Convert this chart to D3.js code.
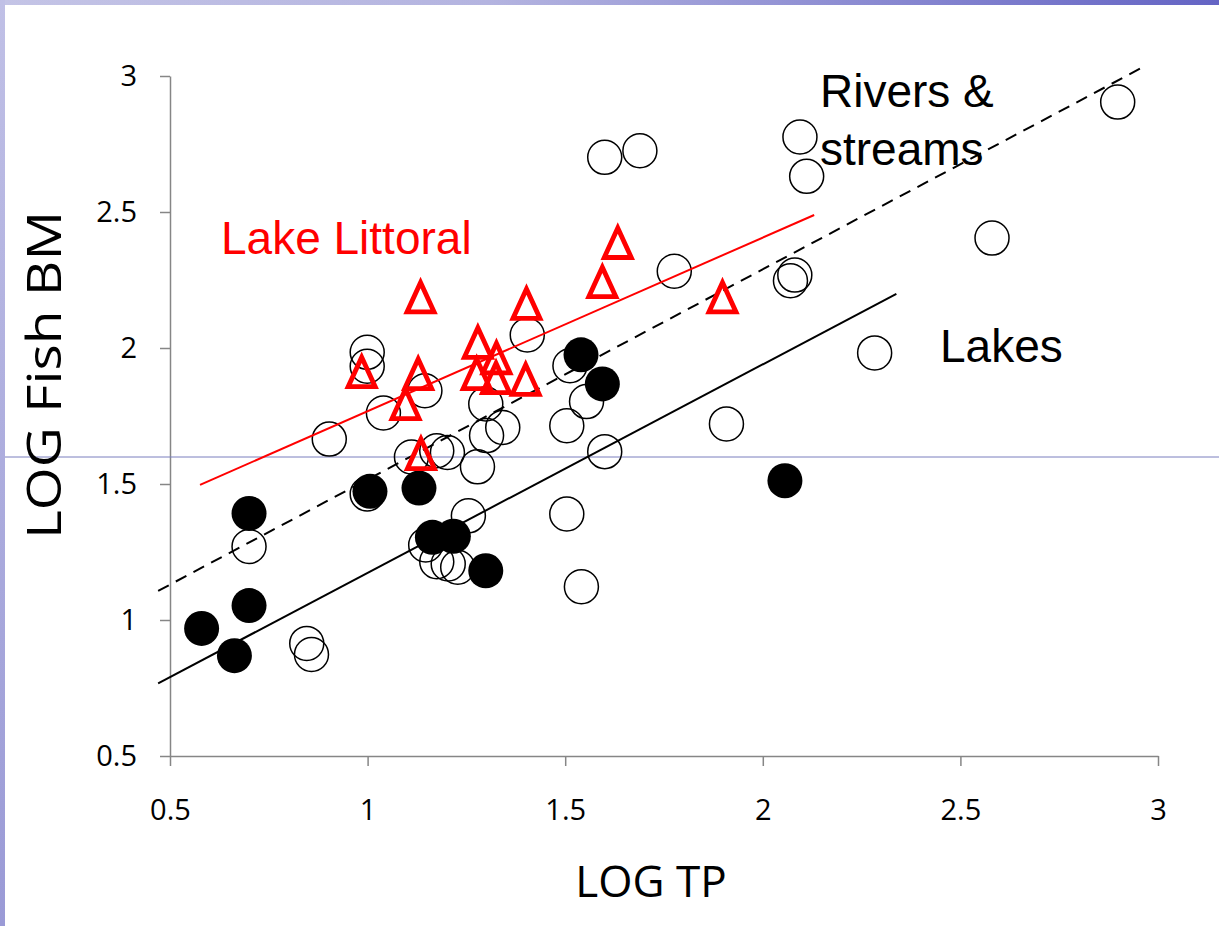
<!DOCTYPE html>
<html>
<head>
<meta charset="utf-8">
<script src="https://cdn.jsdelivr.net/npm/d3@7"></script>
<style>
  html, body { margin: 0; padding: 0; background: #fff; }
  svg { display: block; }
</style>
</head>
<body>
<div id="chart"></div>
<script>
// open circles (rivers & streams)
const riverX = [2.898, 2.094, 2.111, 1.600, 1.689, 2.580, 1.776, 2.081, 2.070, 2.283,
  1.908, 1.404, 1.512, 1.554, 1.504, 1.299, 1.301, 1.342, 1.600, 0.999,
  0.999, 0.903, 1.040, 1.145, 1.111, 1.175, 1.202, 1.278, 0.999, 1.255,
  1.147, 1.175, 1.204, 1.228, 0.700, 0.846, 0.858, 1.504, 1.541];
const riverY = [2.904, 2.776, 2.631, 2.701, 2.725, 2.404, 2.282, 2.268, 2.247, 1.982,
  1.721, 2.048, 1.935, 1.803, 1.714, 1.794, 1.678, 1.708, 1.619, 1.984,
  1.933, 1.665, 1.761, 1.843, 1.599, 1.622, 1.616, 1.563, 1.463, 1.383,
  1.276, 1.214, 1.206, 1.194, 1.270, 0.914, 0.873, 1.390, 1.122];

// filled circles (lakes)
const lakeX = [1.540, 1.594, 1.006, 1.130, 1.164, 1.217, 1.299, 0.700, 0.700, 0.580, 0.663, 2.056];
const lakeY = [1.975, 1.868, 1.473, 1.485, 1.304, 1.308, 1.181, 1.392, 1.053, 0.969, 0.869, 1.512];

// triangles (lake littoral)
const littoralX = [1.134, 0.985, 1.128, 1.633, 1.594, 1.402, 1.279, 1.326, 1.276, 1.325, 1.400, 1.096, 1.135, 1.898];
const littoralY = [2.186, 1.911, 1.904, 2.386, 2.242, 2.162, 2.019, 1.962, 1.904, 1.889, 1.883, 1.794, 1.610, 2.186];

// fitted lines, end points
const littoralFitX = [0.576, 2.130];
const littoralFitY = [1.497, 2.489];
const riverFitX = [0.470, 2.961];
const riverFitY = [1.107, 3.032];
const lakeFitX = [0.470, 2.338];
const lakeFitY = [0.767, 2.199];

const xTicks = [0.5, 1, 1.5, 2, 2.5, 3];
const yTicks = [0.5, 1, 1.5, 2, 2.5, 3];

const W = 1219, H = 926;

const svg = d3.select('#chart').append('svg')
  .attr('width', W)
  .attr('height', H);

// slide frame
const defs = svg.append('defs');
const topGrad = defs.append('linearGradient').attr('id', 'topGrad');
topGrad.append('stop').attr('offset', '0%').attr('stop-color', '#c4c4e6');
topGrad.append('stop').attr('offset', '40%').attr('stop-color', '#b4b4e0');
topGrad.append('stop').attr('offset', '100%').attr('stop-color', '#6464c4');
const leftGrad = defs.append('linearGradient').attr('id', 'leftGrad')
  .attr('x1', 0).attr('y1', 0).attr('x2', 0).attr('y2', 1);
leftGrad.append('stop').attr('offset', '0%').attr('stop-color', '#c0c0e6');
leftGrad.append('stop').attr('offset', '100%').attr('stop-color', '#9a9ad6');

svg.append('rect').attr('x', 0).attr('y', 0).attr('width', W).attr('height', 5).attr('fill', 'url(#topGrad)');
svg.append('rect').attr('x', 0).attr('y', 0).attr('width', 5).attr('height', H).attr('fill', 'url(#leftGrad)');

const x = d3.scaleLinear().domain([0.5, 3]).range([170, 1158]);
const y = d3.scaleLinear().domain([0.5, 3]).range([756, 76]);

const axisColor = '#868686';

const gx = svg.append('g')
  .attr('transform', 'translate(0,' + y(0.5) + ')')
  .call(d3.axisBottom(x).tickValues(xTicks).tickSize(10).tickSizeOuter(0).tickPadding(33)
    .tickFormat(d3.format('')));
const gy = svg.append('g')
  .attr('transform', 'translate(' + x(0.5) + ',0)')
  .call(d3.axisLeft(y).tickValues(yTicks).tickSize(10).tickSizeOuter(0).tickPadding(23)
    .tickFormat(d3.format('')));

[gx, gy].forEach(g => {
  g.select('.domain').attr('stroke', axisColor).attr('stroke-width', 1.5);
  g.selectAll('.tick line').attr('stroke', axisColor).attr('stroke-width', 1.5);
  g.selectAll('.tick text')
    .attr('fill', '#000')
    .style('font-family', '"Open Sans", sans-serif')
    .style('font-size', '29px');
});

// thin slide guide line
svg.append('line')
  .attr('x1', 5).attr('x2', W)
  .attr('y1', 457).attr('y2', 457)
  .attr('stroke', '#7a7ebe').attr('stroke-width', 1);

// open circles
svg.append('g').selectAll('circle')
  .data(riverX.map((d, i) => [d, riverY[i]]))
  .join('circle')
  .attr('cx', d => x(d[0]))
  .attr('cy', d => y(d[1]))
  .attr('r', 17)
  .attr('fill', 'none')
  .attr('stroke', '#000')
  .attr('stroke-width', 1.5);

// filled circles
svg.append('g').selectAll('circle')
  .data(lakeX.map((d, i) => [d, lakeY[i]]))
  .join('circle')
  .attr('cx', d => x(d[0]))
  .attr('cy', d => y(d[1]))
  .attr('r', 17.5)
  .attr('fill', '#000');

// regression lines
const line = d3.line().x(d => x(d[0])).y(d => y(d[1]));
const fits = [
  { xs: riverFitX, ys: riverFitY, color: '#000', dash: '12,8' },
  { xs: lakeFitX, ys: lakeFitY, color: '#000', dash: null },
  { xs: littoralFitX, ys: littoralFitY, color: '#ff0000', dash: null }
];
fits.forEach(f => {
  svg.append('path')
    .datum(f.xs.map((d, i) => [d, f.ys[i]]))
    .attr('d', line)
    .attr('fill', 'none')
    .attr('stroke', f.color)
    .attr('stroke-width', 2)
    .attr('stroke-dasharray', f.dash);
});

// triangles
const tri = 'M0,-15L13.5,14.5L-13.5,14.5Z';
svg.append('g').selectAll('path')
  .data(littoralX.map((d, i) => [d, littoralY[i]]))
  .join('path')
  .attr('transform', d => 'translate(' + x(d[0]) + ',' + y(d[1]) + ')')
  .attr('d', tri)
  .attr('fill', 'none')
  .attr('stroke', '#ff0000')
  .attr('stroke-width', 4.8)
  .attr('stroke-linejoin', 'miter')
  .attr('stroke-miterlimit', 3);

// annotations
const label = (txt, lx, ly, color) => svg.append('text')
  .attr('x', lx).attr('y', ly)
  .attr('fill', color)
  .style('font-family', '"Liberation Sans", Arial, sans-serif')
  .style('font-size', '46px')
  .text(txt);
label('Rivers &', 820, 107, '#000');
label('streams', 820, 165, '#000');
label('Lakes', 940, 362, '#000');
label('Lake Littoral', 221, 254, '#ff0000');

// axis titles
svg.append('text')
  .attr('x', 651).attr('y', 897)
  .attr('text-anchor', 'middle')
  .style('font-family', '"Open Sans", sans-serif')
  .style('font-size', '44px')
  .text('LOG TP');
svg.append('text')
  .attr('transform', 'translate(61,375) rotate(-90)')
  .attr('text-anchor', 'middle')
  .attr('textLength', 328)
  .attr('lengthAdjust', 'spacingAndGlyphs')
  .style('font-family', '"Open Sans", sans-serif')
  .style('font-size', '47px')
  .text('LOG Fish BM');
</script>
</body>
</html>
